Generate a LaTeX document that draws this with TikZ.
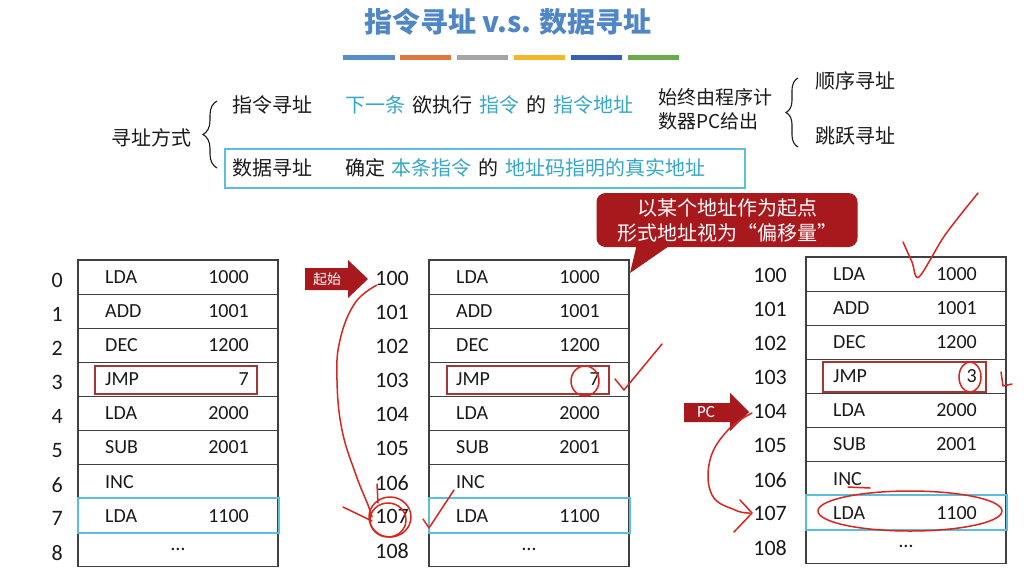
\documentclass[tikz,border=0pt]{standalone}
\usepackage{fontspec}
\setmainfont{Carlito}
\newfontfamily\cjk{Noto Sans CJK SC}
\usetikzlibrary{decorations.pathreplacing}
\definecolor{titleblue}{HTML}{4F86C6}
\definecolor{cyantext}{HTML}{35A7C9}
\definecolor{cyanbox}{HTML}{5BBFDB}
\definecolor{darkred}{HTML}{A8191E}
\definecolor{boxred}{HTML}{A93434}
\definecolor{pencol}{HTML}{D8261F}
\definecolor{gridc}{HTML}{404040}
\definecolor{textc}{HTML}{1A1A1A}
\definecolor{barA}{HTML}{5B8BC8}
\definecolor{barB}{HTML}{E0793A}
\definecolor{barC}{HTML}{A5A5A5}
\definecolor{barD}{HTML}{F0B828}
\definecolor{barE}{HTML}{3A5FAF}
\definecolor{barF}{HTML}{6DAA4C}
\tikzset{
  cell/.style={draw=gridc, line width=1.1pt, minimum width=200pt, minimum height=34.1pt, inner sep=0pt, outer sep=0pt},
  optext/.style={font=\fontsize{20}{24}\selectfont, text=textc, inner sep=0pt},
  lbltext/.style={font=\fontsize{22}{26}\selectfont, text=textc, inner sep=0pt},
  cjktext/.style={font=\cjk\fontsize{20}{24}\selectfont, text=textc, inner sep=0pt},
  redbox/.style={draw=boxred, line width=1.8pt, inner sep=0pt},
  cyanframe/.style={draw=cyanbox, line width=2pt, inner sep=0pt},
  pen/.style={draw=pencol, line width=1.5pt, line cap=round, line join=round},
  bracestyle/.style={decorate, line width=1.1pt, draw=textc},
}
\newcommand\memtable[7]{%
  \foreach \op/\val [count=\i from 0] in {LDA/1000,ADD/1001,DEC/1200,JMP/#6,LDA/2000,SUB/2001,INC/{},LDA/1100,{}/{}}{%
    \node[cell, anchor=north west] (#1r\i) at (#2,{#3+34.1*\i}) {};
    \node[optext, anchor=west] (#1o\i) at ([xshift=27pt]#1r\i.west) {\op};
    \node[optext, anchor=east] (#1v\i) at ([xshift=-29pt]#1r\i.east) {\val};
    \pgfmathtruncatemacro\lab{#5+\i}
    \node[lbltext, anchor=east] (#1l\i) at (#4,{#3+34.1*\i+17.05+#7}) {\lab};
  }
  \node[optext] (#1dots) at (#1r8.center) {…};
}
\begin{document}
\begin{tikzpicture}[x=1pt,y=-1pt]
\useasboundingbox (0,0) rectangle (1024,573);
\fill[white] (0,0) rectangle (1024,573);

% title
\node[font=\cjk\bfseries\fontsize{28}{32}\selectfont, text=titleblue, inner sep=0pt] (title) at (508,22) {指令寻址 v.s. 数据寻址};
\fill[barA] (343,55) rectangle (395,60);
\fill[barB] (400,55) rectangle (451,60);
\fill[barC] (457,55) rectangle (508,60);
\fill[barD] (514,55) rectangle (565,60);
\fill[barE] (571,55) rectangle (622,60);
\fill[barF] (628,55) rectangle (679,60);

% top classification
\node[cjktext] (ways) at (151,138) {寻址方式};
\draw[bracestyle, decoration={brace, amplitude=14pt}] (217,168) -- (217,101);
\node[cjktext, anchor=west] (instr) at (232,105) {指令寻址};
\node[cjktext, anchor=west] (instrdesc) at (345,105) {{\color{cyantext}下一条}\hspace{7pt}欲执行\hspace{7pt}{\color{cyantext}指令}\hspace{7pt}的\hspace{7pt}{\color{cyantext}指令地址}};
\node[cjktext, anchor=west, align=left, font=\cjk\fontsize{19}{24}\selectfont] (pcgiven) at (658,109) {始终由程序计\\数器PC给出};
\draw[bracestyle, decoration={brace, amplitude=12pt}] (798,147) -- (798,78);
\node[cjktext, anchor=west] (seq) at (815,81) {顺序寻址};
\node[cjktext, anchor=west] (jump) at (815,136) {跳跃寻址};

\node[cyanframe, draw=cyanbox, line width=1.5pt, minimum width=520pt, minimum height=39pt] (databox) at (485,168.5) {};
\node[cjktext, anchor=west] (data) at (232,168) {数据寻址};
\node[cjktext, anchor=west] (datadesc) at (345,168) {确定\hspace{6pt}{\color{cyantext}本条指令}\hspace{7pt}的\hspace{7pt}{\color{cyantext}地址码指明的真实地址}};

% callout
\fill[darkred] (637,244) -- (672,244) -- (630,273) -- cycle;
\node[fill=darkred, rounded corners=9pt, minimum width=261pt, minimum height=54pt, inner sep=0pt,
      text=white, align=center, font=\cjk\fontsize{20}{25}\selectfont] (callout) at (727,220) {以某个地址作为起点\\形式地址视为“偏移量”};

% tables
\memtable{L}{78}{260}{63}{0}{7}{3}
\memtable{M}{429}{260}{409}{100}{7}{1}
\memtable{R}{806}{257}{787}{100}{3}{1}

% highlight boxes
\node[redbox, minimum width=162pt, minimum height=28pt] (jmpL) at (176,380) {};
\node[redbox, minimum width=162pt, minimum height=28pt] (jmpM) at (528,380) {};
\node[redbox, minimum width=163pt, minimum height=30pt] (jmpR) at (904.5,377) {};
\node[cyanframe, minimum width=201pt, minimum height=35pt] (tgtL) at (178,515.5) {};
\node[cyanframe, minimum width=201pt, minimum height=35pt] (tgtM) at (529.5,515.5) {};
\node[cyanframe, minimum width=201pt, minimum height=35pt] (tgtR) at (906.5,512.5) {};

% arrows
\fill[darkred] (305,268) -- (348,268) -- (348,260) -- (368,279) -- (348,298) -- (348,290) -- (305,290) -- cycle;
\node[font=\cjk\fontsize{14}{16}\selectfont, text=white, inner sep=0pt] (start) at (327,279) {起始};
\fill[darkred] (684,403) -- (730,403) -- (730,393) -- (749,412) -- (730,431) -- (730,422) -- (684,422) -- cycle;
\node[font=\fontsize{17}{19}\selectfont, text=white, inner sep=0pt] (pcarrow) at (706,412) {PC};

% handwritten annotations
\draw[pen] plot[smooth, tension=0.7] coordinates {(377,285) (355,303) (340,340) (337,380) (342,430) (356,475) (368,505) (372,517)};
\draw[pen] (343,507) -- (372,521);
\draw[pen] (377,484) -- (378,503);
\draw[pen] (390,517) ellipse [x radius=21, y radius=20];
\draw[pen] (388,520) ellipse [x radius=18, y radius=17];
\draw[pen] (423,519) -- (429,528) -- (454,490);
\draw[pen] (585,381) ellipse [x radius=14, y radius=15];
\draw[pen] (615,379) -- (624,390) -- (662,344);
\draw[pen] plot[smooth, tension=0.5] coordinates {(903,242) (912,262) (919,277) (945,235) (978,193)};
\draw[pen] (970,377) ellipse [x radius=11, y radius=15];
\draw[pen] (1001,372) -- (1003,386) -- (1012,384);
\draw[pen] plot[smooth, tension=0.7] coordinates {(752,413) (728,430) (710,460) (712,495) (735,510) (750,513)};
\draw[pen] (740,500) -- (752,513) -- (734,532);
\draw[pen] (910,511) ellipse [x radius=92, y radius=20];
\draw[pen] (848,487) -- (870,488);
\end{tikzpicture}
\end{document}
